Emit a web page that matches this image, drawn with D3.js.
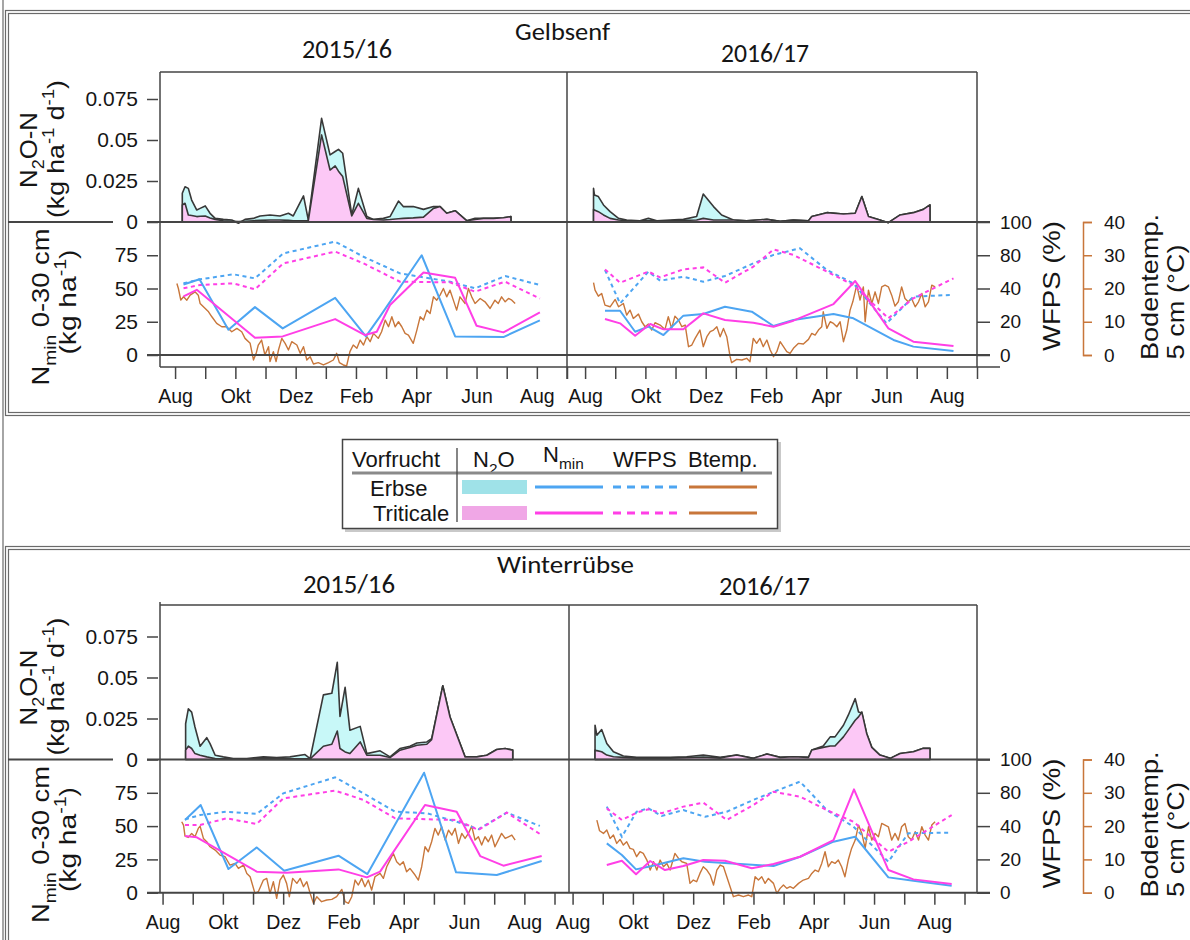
<!DOCTYPE html>
<html>
<head>
<meta charset="utf-8">
<script src="https://cdn.jsdelivr.net/npm/d3@7"></script>
<style>
  body { margin: 0; background: #fff; }
  svg { display: block; }
  text { font-family: "Liberation Sans", Arial, sans-serif; fill: #151515; }
  .cal { font-family: "Carlito", "Lato", "Liberation Sans", sans-serif; }
</style>
</head>
<body>
<script>
// ---- axis ticks and labels ----
const monthTicks = d3.range(0, 14);            // months since 1 August
const monthLabels = ["Aug", "", "Okt", "", "Dez", "", "Feb", "", "Apr", "", "Jun", "", "Aug", ""];
const n2oTicks = [0, 0.025, 0.05, 0.075];
const nminTicks = [0, 25, 50, 75];
const wfpsTicks = [0, 20, 40, 80, 100];
const btempTicks = [0, 10, 20, 30, 40];
const blockTitles = ["Gelbsenf", "Winterrübse"];
const seasonLabels = ["2015/16", "2016/17"];
const cropNames = ["Erbse", "Triticale"];

// ---- Gelbsenf 2015/16 ----
const gs1N2oMonth = [0.24,0.33,0.44,0.55,0.72,0.83,1.0,1.16,1.33,1.6,1.88,2.1,2.32,2.6,2.82,3.15,3.48,3.76,3.92,4.26,4.42,4.86,5.14,5.31,5.42,5.56,5.86,6.08,6.36,6.58,6.91,7.13,7.41,7.57,7.9,8.24,8.57,8.79,9.01,9.29,9.67,9.95,10.23,10.56,10.89,11.14];
const gs1N2oErbse = [0.0175,0.0215,0.0205,0.0134,0.0073,0.0083,0.0098,0.0053,0.0022,0.0016,0.0012,-0.0008,0.0016,0.0022,0.0037,0.0043,0.0037,0.0053,0.0037,0.0159,0.0012,0.0632,0.0409,0.0430,0.0443,0.0419,0.0043,0.0205,0.0033,0.0016,0.0022,0.0033,0.0128,0.0094,0.0094,0.0077,0.0094,0.0094,0.0053,0.0069,0.0008,0.0022,0.0022,0.0022,0.0026,0.0033];
const gs1N2oTriticale = [0.0104,0.0114,0.0043,0.0040,0.0033,0.0035,0.0037,0.0025,0.0016,0.0008,0.0005,0.0002,0.0005,0.0008,0.0010,0.0012,0.0012,0.0010,0.0008,0.0008,0.0008,0.0531,0.0317,0.0342,0.0310,0.0277,0.0037,0.0114,0.0022,0.0015,0.0012,0.0015,0.0020,0.0022,0.0025,0.0030,0.0083,0.0094,0.0053,0.0069,0.0008,0.0015,0.0022,0.0022,0.0026,0.0033];
const gs1NminErbseMonth = [0.28,0.81,1.77,2.65,3.57,5.31,6.33,6.8,8.18,9.29,10.89,12.1];
const gs1NminErbse = [53,57,19,36,20,43,14,29,75,14,13.5,26];
const gs1NminTriticaleMonth = [0.28,0.72,2.65,3.57,5.31,6.3,6.69,7.13,8.24,9.29,10.0,10.89,12.1];
const gs1NminTriticale = [44,49,13,14,27,15,17.5,37.6,62,58,22,17,32];
const gs1WfpsErbseMonth = [0.28,0.83,1.93,2.65,3.59,5.31,6.25,7.46,9.12,9.95,10.95,12.1];
const gs1WfpsErbse = [46.2,51.0,57.1,52.2,81.1,88.2,78.2,58.2,48.2,40.2,55.0,44.2];
const gs1WfpsTriticaleMonth = [0.28,0.83,1.93,2.65,3.59,5.31,6.25,7.46,9.12,9.95,10.95,12.1];
const gs1WfpsTriticale = [40.2,44.2,46.2,39.5,70.2,82.2,70.2,48.2,47.4,38.1,48.2,33.9];
const gs1TempMonth = [0.06,0.11,0.19,0.28,0.39,0.5,0.66,0.77,0.83,1.0,1.11,1.22,1.38,1.55,1.71,1.88,2.05,2.21,2.32,2.49,2.6,2.69,2.76,2.87,2.98,3.1,3.15,3.26,3.35,3.43,3.54,3.65,3.76,3.87,4.04,4.15,4.26,4.37,4.48,4.59,4.75,4.92,5.09,5.25,5.36,5.45,5.58,5.69,5.8,5.91,6.03,6.14,6.25,6.36,6.47,6.58,6.74,6.85,6.97,7.08,7.19,7.3,7.41,7.52,7.63,7.74,7.9,8.02,8.13,8.24,8.35,8.46,8.57,8.68,8.79,8.9,9.01,9.12,9.23,9.34,9.45,9.62,9.73,9.84,9.95,10.12,10.28,10.45,10.61,10.72,10.83,10.95,11.06,11.17,11.28];
const gs1Temp = [21.5,20,16.5,17.5,16.5,18,19,18,15.5,14,13,11.5,9.5,8.5,8.5,7,8,7,5,3.5,-1.5,0.5,3,4.5,0,2.5,-2,1,-2,1.5,5,3.5,1.5,4,3,0.5,2.5,-1.5,-0.5,-2.7,-2.3,-3,-2.3,-1.5,0.5,-2.3,-3,-3.3,1,3,2,4.5,3,5.5,4,6.5,5,7,10.5,8.5,11.5,8.5,10,8.5,6.5,6,3.5,7.5,11.5,10.5,13.5,12.5,17.5,16.5,18,20,17.5,19.5,16.5,13.5,17.5,15.5,20,17.5,15.5,17,16,14,16.5,15.5,17.5,16,17,16.5,15.5];

// ---- Gelbsenf 2016/17 ----
const gs2N2oMonth = [0.28,0.31,0.44,0.61,0.83,1.11,1.38,1.82,2.1,2.38,2.82,3.26,3.7,3.92,4.26,4.53,4.92,5.36,6.03,6.47,6.91,7.41,7.52,8.02,8.57,8.96,9.18,9.4,9.78,10.06,10.45,10.89,11.22,11.44];
const gs2N2oErbse = [0.0205,0.0165,0.0155,0.0104,0.0063,0.0022,0.0012,0.0008,0.0022,0.0008,0.0012,0.0016,0.0033,0.0171,0.0094,0.0043,0.0012,0.0008,0.0016,0.0004,0.0012,0.0008,0.0033,0.0057,0.0049,0.0053,0.0155,0.0033,0.0012,-0.0004,0.0043,0.0057,0.0077,0.0104];
const gs2N2oTriticale = [0.0077,0.0073,0.0063,0.0043,0.0022,0.0012,0.0008,0.0008,0.0008,0.0008,0.0008,0.0010,0.0012,0.0022,0.0012,0.0012,0.0012,0.0008,0.0016,0.0004,0.0012,0.0008,0.0033,0.0057,0.0049,0.0053,0.0155,0.0033,0.0012,-0.0004,0.0043,0.0057,0.0077,0.0104];
const gs2NminErbseMonth = [0.66,1.16,1.66,2.1,2.6,3.26,3.92,4.64,5.53,6.25,6.91,8.24,8.9,10.23,10.89,12.22];
const gs2NminErbse = [33.3,33.3,17.5,21.3,15,29.6,30.8,36.3,32.6,21.8,26.3,30.8,27.6,11.3,6.3,3];
const gs2NminTriticaleMonth = [0.66,1.16,1.66,2.16,2.6,3.26,3.92,4.64,5.58,6.25,6.91,8.24,8.96,10.06,10.89,12.22];
const gs2NminTriticale = [27.1,23.8,14.5,23.3,19.3,19.3,31.3,26.3,24.3,21.3,25.8,38.3,55.6,20,10,6.8];
const gs2WfpsErbseMonth = [0.66,1.16,2.1,2.49,3.26,3.92,4.64,5.58,6.25,7.13,8.02,8.9,10.0,10.89,12.1];
const gs2WfpsErbse = [62.2,31.0,60.3,49.4,54.2,48.2,55.0,70.2,80.2,84.2,62.2,46.2,19.0,35.1,36.1];
const gs2WfpsTriticaleMonth = [0.66,1.16,2.1,2.49,3.26,3.92,4.64,5.58,6.25,6.91,8.02,8.9,10.06,10.89,12.22];
const gs2WfpsTriticale = [63.0,47.0,60.3,53.4,63.0,65.4,47.0,66.2,83.5,80.2,60.3,44.2,22.1,34.1,52.2];
const gs2TempMonth = [0.28,0.33,0.44,0.55,0.66,0.83,1.0,1.11,1.27,1.38,1.49,1.6,1.77,1.88,1.99,2.1,2.21,2.32,2.49,2.65,2.76,2.87,2.98,3.1,3.21,3.32,3.43,3.54,3.65,3.81,3.92,4.04,4.15,4.26,4.37,4.48,4.59,4.7,4.81,4.86,5.03,5.2,5.36,5.47,5.58,5.69,5.8,5.91,6.03,6.14,6.25,6.36,6.47,6.58,6.69,6.8,6.91,7.08,7.24,7.41,7.52,7.63,7.74,7.85,7.9,8.02,8.13,8.24,8.35,8.46,8.57,8.68,8.79,8.88,9.01,9.12,9.23,9.29,9.4,9.51,9.62,9.73,9.84,9.95,10.06,10.17,10.28,10.39,10.5,10.61,10.72,10.83,10.95,11.06,11.17,11.28,11.39,11.5,11.61];
const gs2Temp = [21.8,19.5,17.7,18.5,15,14.5,16.7,14.5,15.5,12,13.5,11,12.3,10,8.5,9.3,7.5,9.7,9,7.7,11.5,8,11.7,10.5,8.5,9,2.5,3,5,7.5,2.5,5.5,7,7.5,8.5,5.5,8,5.5,-0.5,-2.3,-1.3,-1.5,-1,-2,5,3.5,5,2.5,4.5,1.5,-0.5,1,4,2.5,1,0.5,2,3.5,3.3,4.7,6.5,6,7.5,8.5,13,8,10,9.5,8.5,10,4,7.5,13.5,16,21,16.5,20.5,10,19.5,15.5,19,15.5,20.5,21,20.5,18,14.7,16,20.5,17,16,17,14.5,16,18.5,14.5,16,21,20.5];

// ---- Winterrübse 2015/16 ----
const wr1N2oMonth = [0.35,0.44,0.55,0.66,0.83,1.05,1.16,1.33,1.6,1.93,2.38,2.93,3.37,3.81,4.31,4.48,4.92,5.2,5.38,5.47,5.64,5.8,6.14,6.36,6.8,7.13,7.46,7.79,8.02,8.35,8.51,8.88,9.12,9.62,10.01,10.34,10.67,10.95,11.2];
const wr1N2oErbse = [0.0218,0.0309,0.0289,0.0198,0.0081,0.0133,0.0097,0.0026,0.0016,0.0006,0.0006,0.0016,0.0012,0.0016,0.0030,0.0006,0.0394,0.0404,0.0592,0.0263,0.0440,0.0178,0.0202,0.0036,0.0053,0.0016,0.0067,0.0081,0.0101,0.0107,0.0127,0.0450,0.0259,0.0016,0.0016,0.0026,0.0061,0.0067,0.0057];
const wr1N2oTriticale = [0.0057,0.0081,0.0067,0.0036,0.0026,0.0016,0.0012,0.0006,0.0004,0.0004,0.0004,0.0004,0.0004,0.0004,0.0004,0.0004,0.0081,0.0093,0.0174,0.0067,0.0046,0.0036,0.0107,0.0026,0.0026,0.0012,0.0057,0.0073,0.0087,0.0093,0.0121,0.0450,0.0259,0.0016,0.0016,0.0026,0.0061,0.0067,0.0057];
const wr1NminErbseMonth = [0.33,0.85,1.77,2.71,3.62,5.42,6.38,8.26,9.32,10.67,12.16];
const wr1NminErbse = [54.6,65.8,17.8,34,16.5,27.8,14,90.1,15.3,13.3,23.8];
const wr1NminTriticaleMonth = [0.33,0.72,1.55,2.71,3.7,5.42,6.36,6.8,8.29,9.34,10.12,10.89,12.16];
const wr1NminTriticale = [42.6,41.6,30.8,15.8,15,17.5,11.5,15.8,65.8,60.8,27.5,20.3,27.5];
const wr1WfpsErbseMonth = [0.33,0.83,1.71,2.71,3.59,5.31,6.25,7.3,8.35,9.34,10.06,11.0,12.1];
const wr1WfpsErbse = [48.0,53.3,57.3,54.6,79.4,89.3,79.4,57.3,55.4,45.3,38.1,56.2,40.2];
const wr1WfpsTriticaleMonth = [0.33,0.83,1.71,2.71,3.59,5.31,6.25,7.3,8.35,9.34,10.06,11.0,12.1];
const wr1WfpsTriticale = [41.3,41.3,49.3,42.6,73.3,81.3,71.4,49.3,48.2,47.4,37.7,56.2,35.3];
const wr1TempMonth = [0.22,0.28,0.33,0.44,0.55,0.66,0.77,0.83,0.94,1.05,1.16,1.33,1.49,1.66,1.82,1.99,2.1,2.27,2.38,2.49,2.65,2.76,2.93,3.04,3.15,3.26,3.37,3.48,3.59,3.7,3.79,3.9,4.04,4.15,4.26,4.37,4.48,4.59,4.7,4.86,5.03,5.2,5.36,5.53,5.64,5.75,5.86,5.97,6.08,6.19,6.3,6.41,6.52,6.63,6.8,6.91,7.02,7.13,7.24,7.35,7.46,7.57,7.68,7.79,7.96,8.07,8.18,8.29,8.4,8.51,8.62,8.73,8.84,8.96,9.07,9.18,9.29,9.4,9.51,9.62,9.73,9.84,9.95,10.06,10.17,10.28,10.39,10.5,10.61,10.72,10.83,10.95,11.06,11.17,11.28];
const wr1Temp = [21.3,20.3,17,16.6,17.8,16.8,19.3,20,16.3,15.3,13.8,12.8,11.3,10.8,8.3,8.8,7.3,8.3,5.8,4.8,-0.2,0.3,3.8,4.3,-0.2,3.3,-1.7,3.8,5.3,2.8,-1.2,4.3,2.8,4.3,1.8,3.3,-0.2,-3.2,-1.2,-2.7,-2.2,-2,-1.2,1,-2.7,-3.2,-1.2,3.8,2.3,4.3,1.8,3.8,0.8,4.8,5.8,4.3,7.8,9.8,11.8,9.3,8.3,9.3,6.3,7.3,5.3,3.8,7.8,13.8,12.3,15.3,19.3,17.3,19.8,15.8,18.8,17.3,19.3,14.8,17.8,16.3,17.8,20,15.8,16.8,14.3,16.8,15.3,17.3,13.8,15.8,17.8,16.3,16.8,17.3,15.8];

// ---- Winterrübse 2016/17 ----
const wr2N2oMonth = [0.33,0.39,0.55,0.72,0.94,1.27,1.71,2.27,2.82,3.37,3.92,4.48,5.03,5.58,6.03,6.47,6.91,7.41,7.52,7.9,8.13,8.29,8.57,8.73,8.96,9.07,9.18,9.34,9.51,9.78,10.12,10.45,10.89,11.22,11.44];
const wr2N2oErbse = [0.0209,0.0148,0.0183,0.0098,0.0047,0.0021,0.0013,0.0013,0.0013,0.0017,0.0027,0.0013,0.0027,0.0007,0.0033,0.0013,0.0017,0.0013,0.0058,0.0082,0.0138,0.0138,0.0209,0.0270,0.0371,0.0290,0.0284,0.0159,0.0074,0.0027,0.0007,0.0037,0.0047,0.0068,0.0068];
const wr2N2oTriticale = [0.0058,0.0054,0.0047,0.0027,0.0017,0.0013,0.0010,0.0010,0.0010,0.0012,0.0015,0.0010,0.0027,0.0007,0.0033,0.0013,0.0017,0.0013,0.0058,0.0074,0.0082,0.0082,0.0138,0.0179,0.0239,0.0260,0.0290,0.0159,0.0074,0.0027,0.0007,0.0037,0.0047,0.0068,0.0068];
const wr2NminErbseMonth = [0.72,1.22,1.69,2.21,3.26,3.98,6.25,7.13,8.24,8.96,10.06,10.89,12.16];
const wr2NminErbse = [37,28.3,17.5,20,25.8,23.3,20,27,38.3,42,11.5,9,5.3];
const wr2NminTriticaleMonth = [0.72,1.22,1.69,2.16,2.65,3.26,3.92,4.64,5.53,6.25,7.13,8.24,8.92,10.06,10.89,12.16];
const wr2NminTriticale = [20.8,24,13.8,23.8,17,20,24.5,24,18.3,21.5,27,39.5,77.6,17,10,6.5];
const wr2WfpsErbseMonth = [0.72,1.22,1.71,2.1,2.54,3.26,3.98,4.7,5.58,6.25,7.13,8.02,8.9,10.06,10.72,12.16];
const wr2WfpsErbse = [63.4,33.6,57.3,61.3,52.2,59.2,51.2,57.3,71.4,80.6,86.7,59.2,39.7,18.6,35.7,36.1];
const wr2WfpsTriticaleMonth = [0.72,1.22,1.71,2.1,2.54,3.26,3.92,4.7,5.58,6.25,7.13,8.02,8.9,10.06,10.72,12.16];
const wr2WfpsTriticale = [61.3,47.4,56.2,60.2,55.4,63.4,68.2,47.4,65.3,80.6,75.4,59.2,45.3,24.6,30.6,53.3];
const wr2TempMonth = [0.39,0.48,0.61,0.72,0.83,0.94,1.05,1.16,1.27,1.38,1.49,1.6,1.71,1.82,1.93,2.05,2.16,2.27,2.38,2.49,2.6,2.71,2.82,2.98,3.1,3.21,3.37,3.48,3.59,3.7,3.81,3.92,4.04,4.15,4.26,4.37,4.48,4.59,4.7,4.81,4.92,5.09,5.25,5.42,5.53,5.64,5.75,5.86,5.97,6.08,6.25,6.36,6.47,6.58,6.69,6.8,6.91,7.08,7.24,7.41,7.52,7.63,7.74,7.85,7.96,8.07,8.18,8.29,8.4,8.51,8.62,8.73,8.84,8.96,9.07,9.18,9.29,9.4,9.51,9.62,9.73,9.84,9.95,10.06,10.17,10.28,10.39,10.5,10.61,10.72,10.83,10.95,11.06,11.17,11.28,11.39,11.5,11.61];
const wr2Temp = [21.8,18.6,17.8,18.8,16.3,17.3,14.8,16,14.3,15.3,13.3,13,10.8,12.3,11.8,9.8,6.8,9.3,6.8,9.8,7.8,8.8,6.8,11.8,10.3,9.3,8.8,2.8,3.8,3.3,5.8,7.8,6.8,5.3,2.3,6.8,8.3,7.8,4.8,1.8,-1.2,-0.7,-1.2,-0.7,-1.2,4.8,3.8,4.8,2.8,4.3,2.8,-0.2,1.3,2.3,1.3,1.8,1.3,2.8,3.8,4.3,5.8,6.8,6.3,8.8,12.3,7.8,9.3,8.8,9.8,7.8,4.8,9.8,13.3,15.8,20.3,17.8,13.3,19.8,15.8,17.8,16.8,20.8,20.3,19.8,15.8,17.8,15.8,19.8,20.8,16.8,15.8,18.3,15.8,19.8,17.3,15.8,20.3,21.3];

// ---- colours ----
const col = {
  erbseFill: "#c8f8f8", tritFill: "#fcc8f6",
  erbseKey: "#9fe2e8", tritKey: "#f0a7e6",
  erbse: "#4da5f2", trit: "#ff3fe6", temp: "#c8763a",
  outline: "#383838", axis: "#454545", frame: "#6a6a6a"
};

const pts = (ms, vs) => ms.map((m, i) => ({ m, v: vs[i] }));

const panels = [
  { block: 0, side: 0, n2o: [pts(gs1N2oMonth, gs1N2oErbse), pts(gs1N2oMonth, gs1N2oTriticale)],
    nmin: [pts(gs1NminErbseMonth, gs1NminErbse), pts(gs1NminTriticaleMonth, gs1NminTriticale)],
    wfps: [pts(gs1WfpsErbseMonth, gs1WfpsErbse), pts(gs1WfpsTriticaleMonth, gs1WfpsTriticale)],
    temp: pts(gs1TempMonth, gs1Temp) },
  { block: 0, side: 1, n2o: [pts(gs2N2oMonth, gs2N2oErbse), pts(gs2N2oMonth, gs2N2oTriticale)],
    nmin: [pts(gs2NminErbseMonth, gs2NminErbse), pts(gs2NminTriticaleMonth, gs2NminTriticale)],
    wfps: [pts(gs2WfpsErbseMonth, gs2WfpsErbse), pts(gs2WfpsTriticaleMonth, gs2WfpsTriticale)],
    temp: pts(gs2TempMonth, gs2Temp) },
  { block: 1, side: 0, n2o: [pts(wr1N2oMonth, wr1N2oErbse), pts(wr1N2oMonth, wr1N2oTriticale)],
    nmin: [pts(wr1NminErbseMonth, wr1NminErbse), pts(wr1NminTriticaleMonth, wr1NminTriticale)],
    wfps: [pts(wr1WfpsErbseMonth, wr1WfpsErbse), pts(wr1WfpsTriticaleMonth, wr1WfpsTriticale)],
    temp: pts(wr1TempMonth, wr1Temp) },
  { block: 1, side: 1, n2o: [pts(wr2N2oMonth, wr2N2oErbse), pts(wr2N2oMonth, wr2N2oTriticale)],
    nmin: [pts(wr2NminErbseMonth, wr2NminErbse), pts(wr2NminTriticaleMonth, wr2NminTriticale)],
    wfps: [pts(wr2WfpsErbseMonth, wr2WfpsErbse), pts(wr2WfpsTriticaleMonth, wr2WfpsTriticale)],
    temp: pts(wr2TempMonth, wr2Temp) }
];

// ---- layout ----
const W = 1190, H = 940;
const blockLayout = [
  { frameTop: 10.5, frameBottom: 415.5, boxTop: 72, n2oZero: 222, nminZero: 355, axisY: 367, axisShift: 0,
    titleY: 40, titleX: [515, 610], seasonY: [58, 62], seasonX: [[302, 392], [721, 809]] },
  { frameTop: 546.5, frameBottom: 1000, boxTop: 605, n2oZero: 759.5, nminZero: 892.7, axisY: 892.7, axisShift: -12.5,
    titleY: 573, titleX: [497, 634], seasonY: [593, 595], seasonX: [[303, 395], [719, 810]] }
];
const sideLayout = [{ x0: 160, x1: 567, m0: -0.5 }, { x0: 567, x1: 977, m0: -0.6 }];
const boxLeft = 160, boxRight = 977;

const svg = d3.select("body").append("svg").attr("width", W).attr("height", H);

// text with sub/superscripts
function rich(sel, parts, fs) {
  let shift = 0;
  parts.forEach(p => {
    const target = p.sub ? 0.3 * fs : p.sup ? -0.4 * fs : 0;
    const ts = sel.append("tspan").text(p.t).attr("dy", target - shift);
    if (p.sub || p.sup) ts.attr("font-size", fs * 0.7);
    shift = target;
  });
}

function hline(g, x0, x1, y, w, c) {
  g.append("line").attr("x1", x0).attr("x2", x1).attr("y1", y).attr("y2", y)
    .attr("stroke", c || col.axis).attr("stroke-width", w || 1.5);
}
function vline(g, x, y0, y1, w, c) {
  g.append("line").attr("x1", x).attr("x2", x).attr("y1", y0).attr("y2", y1)
    .attr("stroke", c || col.axis).attr("stroke-width", w || 1.5);
}
function styleAxis(g, color, fs) {
  g.selectAll(".tick line").attr("stroke", color).attr("stroke-width", 1.5);
  g.selectAll(".tick text").attr("fill", color).style("font-family", '"Liberation Sans", Arial, sans-serif').attr("font-size", fs);
  g.select(".domain").attr("stroke", color).attr("stroke-width", 1.5);
}

// outer left rule spanning the figure
vline(svg, 3, 0, H, 1.2, col.frame);

blockLayout.forEach((L, b) => {
  const g = svg.append("g");

  // double frame around the block
  [0, 3].forEach(o => {
    g.append("rect").attr("x", 5.5 + o).attr("y", L.frameTop + o)
      .attr("width", W + 20).attr("height", L.frameBottom - L.frameTop - 2 * o)
      .attr("fill", "none").attr("stroke", col.frame).attr("stroke-width", 1.2);
  });

  // titles
  g.append("text").attr("class", "cal").attr("x", L.titleX[0]).attr("y", L.titleY)
    .attr("font-size", 25).attr("textLength", L.titleX[1] - L.titleX[0]).attr("lengthAdjust", "spacingAndGlyphs")
    .text(blockTitles[b]);
  seasonLabels.forEach((s, i) => {
    g.append("text").attr("class", "cal").attr("x", L.seasonX[i][0]).attr("y", L.seasonY[i])
      .attr("font-size", 27).attr("textLength", L.seasonX[i][1] - L.seasonX[i][0]).attr("lengthAdjust", "spacingAndGlyphs")
      .text(s);
  });

  // scales shared by both seasons of the block
  const yN2o = d3.scaleLinear().domain([0, 0.075]).range([L.n2oZero, L.n2oZero - 123]);
  const yNmin = d3.scaleLinear().domain([0, 100]).range([L.nminZero, L.n2oZero]);
  const yWfps = d3.scaleLinear().domain(wfpsTicks).range([0, 25, 50, 75, 100].map(yNmin));
  const yTemp = d3.scaleLinear().domain([0, 40]).range([L.nminZero, L.n2oZero]);

  // data
  panels.filter(p => p.block === b).forEach(p => {
    const S = sideLayout[p.side];
    const x = d3.scaleLinear().domain([S.m0, 13]).range([S.x0, S.x1]);
    const pg = g.append("g");

    const area = d3.area().x(d => x(d.m)).y0(yN2o(0)).y1(d => yN2o(d.v));
    pg.append("path").datum(p.n2o[0]).attr("d", area)
      .attr("fill", col.erbseFill).attr("stroke", col.outline).attr("stroke-width", 1.6).attr("stroke-linejoin", "round");
    pg.append("path").datum(p.n2o[1]).attr("d", area)
      .attr("fill", col.tritFill).attr("stroke", col.outline).attr("stroke-width", 1.6).attr("stroke-linejoin", "round");

    const tLine = d3.line().x(d => x(d.m)).y(d => yTemp(d.v));
    pg.append("path").datum(p.temp).attr("d", tLine)
      .attr("fill", "none").attr("stroke", col.temp).attr("stroke-width", 1.4).attr("stroke-linejoin", "round");

    const wLine = d3.line().x(d => x(d.m)).y(d => yWfps(d.v));
    [col.erbse, col.trit].forEach((c, i) => {
      pg.append("path").datum(p.wfps[i]).attr("d", wLine)
        .attr("fill", "none").attr("stroke", c).attr("stroke-width", 2).attr("stroke-dasharray", "4,3.5");
    });

    const nLine = d3.line().x(d => x(d.m)).y(d => yNmin(d.v));
    [col.erbse, col.trit].forEach((c, i) => {
      pg.append("path").datum(p.nmin[i]).attr("d", nLine)
        .attr("fill", "none").attr("stroke", c).attr("stroke-width", 2).attr("stroke-linejoin", "round");
    });

    // month axis
    const xa = d3.scaleLinear().domain([S.m0, 13]).range([S.x0 + L.axisShift, S.x1 + L.axisShift]);
    const ax = g.append("g").attr("transform", `translate(0,${L.axisY})`)
      .call(d3.axisBottom(xa).tickValues(monthTicks).tickFormat(i => monthLabels[i]).tickSize(12).tickPadding(10));
    ax.select(".domain").remove();
    styleAxis(ax, col.axis, 19.5);
  });

  // panel box and reference lines
  hline(g, boxLeft, boxRight, L.boxTop, 1.5);
  vline(g, boxLeft, L.boxTop - (b ? 3 : 0), L.axisY, 1.5);
  vline(g, boxRight, L.boxTop, L.axisY, 1.5);
  vline(g, sideLayout[1].x0 + (b ? 2 : 0), L.boxTop, L.axisY + (b ? 0 : 12), 1.5);
  hline(g, 8, 113, L.n2oZero, 2);
  hline(g, 147, 990, L.n2oZero, 2);
  hline(g, 147, 990, L.nminZero, 2);
  if (b === 0) hline(g, boxLeft, 1000, L.axisY, 1.5);

  // left axes
  const a1 = g.append("g").attr("transform", `translate(158,0)`)
    .call(d3.axisLeft(yN2o).tickValues(n2oTicks).tickFormat(v => v === 0 ? "0" : String(v)).tickSize(11).tickPadding(9));
  a1.select(".domain").remove(); styleAxis(a1, col.axis, 21);
  const a2 = g.append("g").attr("transform", `translate(158,0)`)
    .call(d3.axisLeft(yNmin).tickValues(nminTicks).tickSize(11).tickPadding(9));
  a2.select(".domain").remove(); styleAxis(a2, col.axis, 21);

  // right axes
  const a3 = g.append("g").attr("transform", `translate(${boxRight},0)`)
    .call(d3.axisRight(yWfps).tickValues(wfpsTicks).tickSize(13).tickPadding(10));
  a3.select(".domain").remove(); styleAxis(a3, col.axis, 19);
  const a4 = g.append("g").attr("transform", `translate(1083,0)`)
    .call(d3.axisRight(yTemp).tickValues(btempTicks).tickSizeInner(9).tickSizeOuter(9).tickPadding(12));
  styleAxis(a4, col.temp, 19);

  // axis titles
  const off = L.n2oZero - 222;
  const rot = (bx, cy, len, fs, color) => g.append("text")
    .attr("transform", `translate(${bx},${cy + off}) rotate(-90)`).attr("text-anchor", "middle")
    .attr("font-size", fs).attr("fill", color || "#151515")
    .attr("textLength", len).attr("lengthAdjust", "spacingAndGlyphs");
  rich(rot(37, 150, 76, 24), [{ t: "N" }, { t: "2", sub: true }, { t: "O-N" }], 24);
  rich(rot(64, 149, 138, 24), [{ t: "(kg ha" }, { t: "-1", sup: true }, { t: " d" }, { t: "-1", sup: true }, { t: ")" }], 24);
  rich(rot(49, 307, 157, 24), [{ t: "N" }, { t: "min", sub: true }, { t: " 0-30 cm" }], 24);
  rich(rot(76, 302, 105, 24), [{ t: "(kg ha" }, { t: "-1", sup: true }, { t: ")" }], 24);
  rot(1060, 286, 130, 24).text("WFPS (%)");
  rot(1158, 287, 146, 24, col.temp).text("Bodentemp.");
  rot(1184, 302, 115, 24, col.temp).text("5 cm (°C)");
});

// ---- legend ----
const lg = svg.append("g");
lg.append("rect").attr("x", 345).attr("y", 442).attr("width", 436).attr("height", 90).attr("fill", "#c9c9c9");
lg.append("rect").attr("x", 342.5).attr("y", 439.5).attr("width", 435).attr("height", 89)
  .attr("fill", "#fff").attr("stroke", "#444").attr("stroke-width", 1.5);
const lfs = 22;
lg.append("text").attr("x", 352).attr("y", 467).attr("font-size", lfs).text("Vorfrucht");
rich(lg.append("text").attr("x", 473).attr("y", 467).attr("font-size", lfs), [{ t: "N" }, { t: "2", sub: true }, { t: "O" }], lfs);
rich(lg.append("text").attr("x", 543).attr("y", 462).attr("font-size", lfs), [{ t: "N" }, { t: "min", sub: true }], lfs);
lg.append("text").attr("x", 613).attr("y", 467).attr("font-size", lfs).text("WFPS");
lg.append("text").attr("x", 688).attr("y", 467).attr("font-size", lfs).text("Btemp.");
hline(lg, 352, 772, 473, 3, "#8a8a8a");
vline(lg, 457, 448, 522, 1.3, "#444");
lg.append("text").attr("x", 370).attr("y", 496).attr("font-size", lfs).text(cropNames[0]);
lg.append("text").attr("x", 373).attr("y", 521).attr("font-size", lfs).text(cropNames[1]);
[[col.erbseKey, col.erbse, 480, 487], [col.tritKey, col.trit, 506, 513]].forEach(([fill, line, ry, ly]) => {
  lg.append("rect").attr("x", 462).attr("y", ry).attr("width", 65).attr("height", 14).attr("fill", fill);
  hline(lg, 535, 603, ly, 3, line);
  lg.append("line").attr("x1", 613).attr("x2", 680).attr("y1", ly).attr("y2", ly)
    .attr("stroke", line).attr("stroke-width", 3).attr("stroke-dasharray", "8,6");
  hline(lg, 689, 757, ly, 3, col.temp);
});
</script>
</body>
</html>
